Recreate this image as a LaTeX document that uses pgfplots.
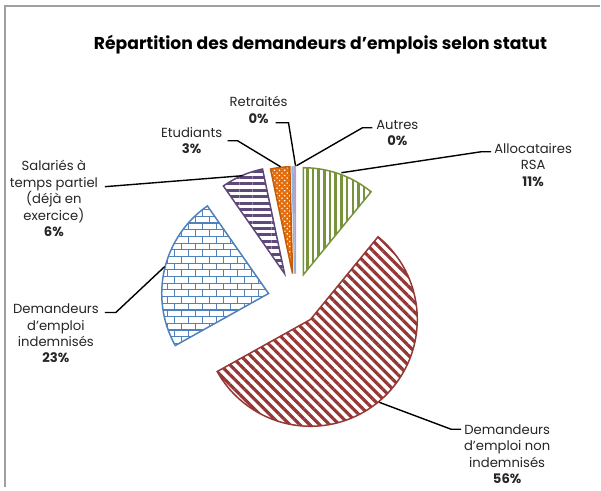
\documentclass[border=0pt]{standalone}
\usepackage{pgfplots}
\pgfplotsset{compat=1.18}
\usepackage{pgfplotstable}
\usepackage{fontspec}
\setmainfont{Poppins}[Ligatures=ResetAll]
\usetikzlibrary{patterns.meta}

\definecolor{rsa}{HTML}{77933C}
\definecolor{nonind}{HTML}{953735}
\definecolor{ind}{HTML}{4F81BD}
\definecolor{sal}{HTML}{5F497A}
\definecolor{etu}{HTML}{E46C0A}
\definecolor{ret}{HTML}{8EB4E3}
\definecolor{aut}{HTML}{B3A2C7}
\definecolor{frame}{HTML}{A0A0A0}

\tikzdeclarepattern{
  name=bricks,
  type=uncolored,
  bounding box={(-0.3pt,-0.3pt) and (7.3pt,7pt)},
  tile size={(7pt,6.7pt)},
  code={
    \pgfsetlinewidth{0.55pt}
    \pgfpathmoveto{\pgfpoint{0pt}{0pt}}\pgfpathlineto{\pgfpoint{7pt}{0pt}}
    \pgfpathmoveto{\pgfpoint{0pt}{3.35pt}}\pgfpathlineto{\pgfpoint{7pt}{3.35pt}}
    \pgfpathmoveto{\pgfpoint{0pt}{0pt}}\pgfpathlineto{\pgfpoint{0pt}{3.35pt}}
    \pgfpathmoveto{\pgfpoint{3.5pt}{3.35pt}}\pgfpathlineto{\pgfpoint{3.5pt}{6.7pt}}
    \pgfusepath{stroke}
  }
}

% share of each status (%), apex of each exploded slice (pixel coordinates)
\pgfplotstableread{
name   value cx  cy
RSA    10.9  304 275
NonInd 56.0  311 320
Ind    23.4  269 294
Sal    6.4   285 274
Etu    2.9   293 274
Ret    0.2   295 274
Aut    0.2   296 274
}\piedata

\tikzset{
  slice0/.style={draw=rsa, line width=0.75pt, preaction={fill=white},
    pattern={Lines[angle=90,distance=2.85pt,line width=1.3pt]}, pattern color=rsa},
  slice1/.style={draw=nonind, line width=0.75pt, preaction={fill=white},
    pattern={Lines[angle=-45,distance=3.5pt,line width=1.6pt]}, pattern color=nonind},
  slice2/.style={draw=ind, line width=0.75pt, preaction={fill=white},
    pattern=bricks, pattern color=ind},
  slice3/.style={draw=sal, line width=0.75pt, preaction={fill=white},
    pattern={Lines[angle=0,distance=3.2pt,line width=1.5pt]}, pattern color=sal},
  slice4/.style={draw=etu!85!black, line width=0.75pt, preaction={fill=etu},
    pattern={Dots[distance=1.8pt,radius=0.45pt,angle=45]}, pattern color=white},
  slice5/.style={draw=ret, line width=0.5pt, fill=ret},
  slice6/.style={draw=aut, line width=0.5pt, fill=aut},
  lbl/.style={align=center, text=black!85, font=\fontsize{6.6}{8.25}\selectfont},
  leader/.style={black, line width=0.7pt},
}

\begin{document}
\begin{tikzpicture}
\begin{axis}[
  x=0.5pt, y=0.5pt,
  xmin=0, xmax=601, ymin=0, ymax=488,
  y dir=reverse,
  hide axis,
  clip=false,
]
\path (axis cs:0,0) rectangle (axis cs:601,488);
\draw[frame, line width=1pt] (axis cs:5,488) -- (axis cs:5,6) -- (axis cs:601,6);

\pgfplotsextra{
  \def\R{53.5pt}
  \xdef\cum{0}
  \foreach \i in {0,...,6}{
    \pgfplotstablegetelem{\i}{value}\of\piedata \let\v\pgfplotsretval
    \pgfplotstablegetelem{\i}{cx}\of\piedata \let\cx\pgfplotsretval
    \pgfplotstablegetelem{\i}{cy}\of\piedata \let\cy\pgfplotsretval
    \pgfmathsetmacro\sa{90-3.6*\cum}
    \pgfmathsetmacro\ea{90-3.6*(\cum+\v)}
    \draw[slice\i] (axis cs:\cx,\cy) -- ++(\sa:\R)
      arc[start angle=\sa, end angle=\ea, radius=\R] -- cycle;
    \pgfmathsetmacro\newcum{\cum+\v}
    \xdef\cum{\newcum}
  }
}

% leader lines
\draw[leader] (axis cs:342,173) -- (axis cs:482,152) -- (axis cs:492,152);
\draw[leader] (axis cs:380,403) -- (axis cs:452,430) -- (axis cs:462,430);
\draw[leader] (axis cs:165,267) -- (axis cs:116,313) -- (axis cs:105,313);
\draw[leader] (axis cs:243,176) -- (axis cs:105,187);
\draw[leader] (axis cs:281,167) -- (axis cs:238,141) -- (axis cs:228,141);
\draw[leader] (axis cs:296,166) -- (axis cs:289,123) -- (axis cs:276,123);
\draw[leader] (axis cs:297,166) -- (axis cs:363,128) -- (axis cs:373,128);

% title and labels
\node[font=\fontsize{8.6}{10}\selectfont\bfseries, text=black] at (axis cs:321,45)
  {Répartition des demandeurs d'emplois selon statut};
\node[lbl] at (axis cs:534,165) {Allocataires\\RSA\\\textbf{11\%}};
\node[lbl] at (axis cs:508,455) {Demandeurs\\d'emploi non\\indemnisés\\\textbf{56\%}};
\node[lbl] at (axis cs:56,334) {Demandeurs\\d'emploi\\indemnisés\\\textbf{23\%}};
\node[lbl] at (axis cs:54,199) {Salariés à\\temps partiel\\(déjà en\\exercice)\\\textbf{6\%}};
\node[lbl] at (axis cs:192,141) {Etudiants\\\textbf{3\%}};
\node[lbl] at (axis cs:259,110) {Retraités\\\textbf{0\%}};
\node[lbl] at (axis cs:398,133) {Autres\\\textbf{0\%}};
\end{axis}
\end{tikzpicture}
\end{document}
